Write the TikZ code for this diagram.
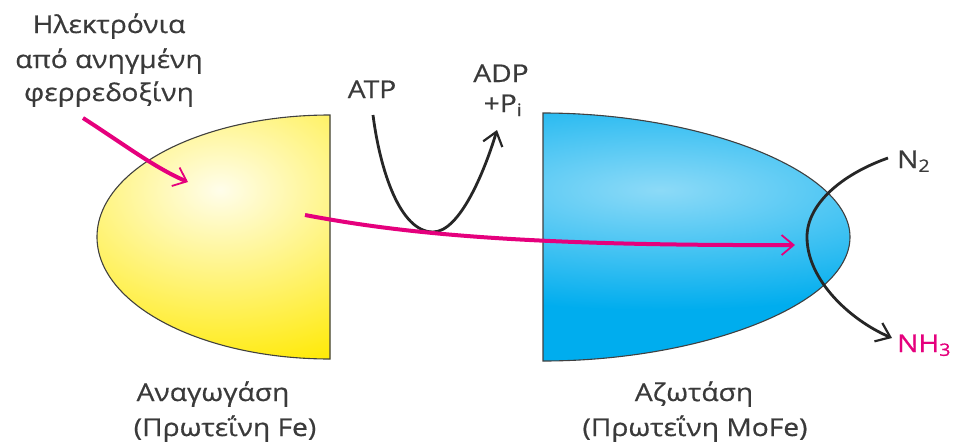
\documentclass[tikz,border=0pt]{standalone}
\usepackage{fontspec}
\setmainfont{Open Sans}[FakeStretch=1.15,FakeBold=0.6]
\usetikzlibrary{arrows.meta}
\definecolor{txt}{HTML}{3A3A3A}
\definecolor{mag}{HTML}{E5007D}
\definecolor{yel}{HTML}{FFE900}
\definecolor{blu}{HTML}{00ADEE}
\tikzset{
  lbl/.style={font=\fontsize{24.5}{28}\selectfont, text=txt, inner sep=0pt, anchor=base},
  magarrow/.style={draw=mag, line width=4pt, -{Straight Barb[length=12pt,width=20pt,line width=1.8pt]}},
  blkarrow/.style={draw=black!85, line width=2.8pt, -{Straight Barb[length=13pt,width=20pt,line width=2.2pt]}},
  outline/.style={draw=black!75, line width=1.1pt}
}
\begin{document}
\begin{tikzpicture}[x=1pt,y=1pt]
\useasboundingbox (0,0) rectangle (954,-445);
% yellow protein
\def\ypath{(330,-115) arc[start angle=90,end angle=270,x radius=233pt,y radius=122pt] -- cycle}
\begin{scope}
  \clip \ypath;
  \fill[yel] (90,-100) rectangle (340,-370);
  \shade[inner color=yel!8, outer color=yel] (220,-190) ellipse (270 and 190);
\end{scope}
\draw[outline] \ypath;
% blue protein
\def\bpath{(543,-113) .. controls (700,-113) and (850,-170) .. (850,-237) .. controls (850,-305) and (700,-361) .. (543,-361) -- cycle}
\begin{scope}
  \clip \bpath;
  \fill[blu] (530,-100) rectangle (860,-370);
  \shade[inner color=blu!45, outer color=blu] (660,-190) ellipse (420 and 120);
\end{scope}
\draw[outline] \bpath;
% texts
\node[lbl] (t1) at (109,-33) {Ηλεκτρόνια};
\node[lbl] (t2) at (109,-68) {από ανηγμένη};
\node[lbl] (t3) at (109,-101) {φερρεδοξίνη};
\node[lbl] (atp) at (372,-98) {ATP};
\node[lbl] (adp) at (501,-82) {ADP};
\node[lbl] (pi) at (503,-112) {+P\textsubscript{i}};
\node[lbl, anchor=base west] (n2) at (897,-168) {N\textsubscript{2}};
\node[lbl, anchor=base west, text=mag] (nh3) at (897,-352) {NH\textsubscript{3}};
\node[lbl] (y1) at (213,-401) {Αναγωγάση};
\node[lbl] (y2) at (225,-436) {(Πρωτεΐνη Fe)};
\node[lbl] (b1) at (694,-401) {Αζωτάση};
\node[lbl] (b2) at (695,-436) {(Πρωτεΐνη MoFe)};
% coordinates
\coordinate (e1) at (83,-118);
\coordinate (e2) at (188,-182);
\coordinate (m1) at (305,-215);
\coordinate (m2) at (795,-245);
\coordinate (a1) at (373,-115);
\coordinate (ab) at (433,-232);
\coordinate (a2) at (497,-130);
\coordinate (n1) at (888,-158);
\coordinate (nl) at (807,-237);
\coordinate (n3) at (892,-338);
% connectors
\draw[blkarrow] (a1) .. controls (380,-170) and (400,-232) .. (ab) .. controls (460,-232) and (485,-170) .. (a2);
\draw[blkarrow] (n1) .. controls (840,-175) and (807,-205) .. (nl) .. controls (807,-280) and (850,-320) .. (n3);
\draw[magarrow] (e1) .. controls (125,-145) and (155,-168) .. (e2);
\draw[magarrow] (m1) .. controls (400,-233) and (520,-246) .. (m2);
\end{tikzpicture}
\end{document}
